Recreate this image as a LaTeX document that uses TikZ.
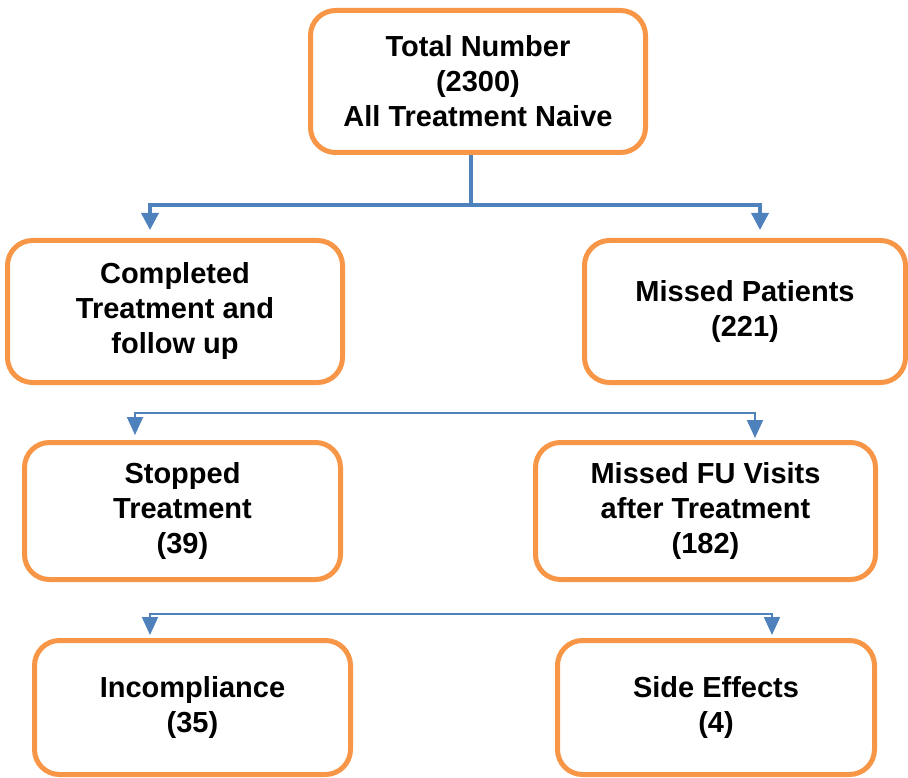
\documentclass[tikz,border=0pt]{standalone}
\usepackage{fontspec}
\setmainfont{Liberation Sans}
\usepackage{tikz}
\usetikzlibrary{arrows.meta}
\definecolor{boxorange}{HTML}{F79646}
\definecolor{linkblue}{HTML}{4F81BD}
\tikzset{
  flowbox/.style={draw=boxorange, line width=5pt, rounded corners=25pt, align=center,
    inner sep=0pt, font=\fontsize{29}{35}\selectfont\bfseries},
  mainlink/.style={draw=linkblue, line width=3.5pt, -{Triangle[width=17pt,length=17pt]}},
  sublink/.style={draw=linkblue, line width=2pt, {Triangle[width=16pt,length=18pt]}-{Triangle[width=16pt,length=18pt]}}
}

\begin{document}
\begin{tikzpicture}[x=1pt,y=-1pt]
  \useasboundingbox (0,0) rectangle (908,778);
  \node[flowbox, minimum width=335pt, minimum height=142pt] (total) at (478,81.5)
    {Total Number\\(2300)\\All Treatment Naive};
  \node[flowbox, minimum width=335pt, minimum height=142pt] (completed) at (175,311.5)
    {Completed\\Treatment and\\follow up};
  \node[flowbox, minimum width=321pt, minimum height=142pt] (missed) at (745,311.5)
    {Missed Patients\\(221)};
  \node[flowbox, minimum width=316pt, minimum height=137pt] (stopped) at (182.5,511)
    {Stopped\\Treatment\\(39)};
  \node[flowbox, minimum width=340pt, minimum height=137pt] (missedfu) at (705.5,511)
    {Missed FU Visits\\after Treatment\\(182)};
  \node[flowbox, minimum width=316pt, minimum height=134pt] (incomp) at (192.5,707.5)
    {Incompliance\\(35)};
  \node[flowbox, minimum width=317pt, minimum height=134pt] (side) at (716,707.5)
    {Side Effects\\(4)};

  % branch points
  \coordinate (split1) at (471,205);
  \coordinate (split2) at (445,413);
  \coordinate (split3) at (460,614);

  \draw[linkblue, line width=3.5pt] (total.south -| split1) -- (split1);
  \draw[mainlink, shorten >=8pt] (split1) -| ([xshift=-25pt]completed.north);
  \draw[mainlink, shorten >=8pt] (split1) -| ([xshift=15pt]missed.north);

  \draw[sublink, shorten <=5pt, shorten >=2pt] ([xshift=-47.5pt]stopped.north) |- (split2)
    -| ([xshift=49.5pt]missedfu.north);
  \draw[sublink, shorten <=3pt, shorten >=3pt] ([xshift=-42.5pt]incomp.north) |- (split3)
    -| ([xshift=56pt]side.north);
\end{tikzpicture}
\end{document}
